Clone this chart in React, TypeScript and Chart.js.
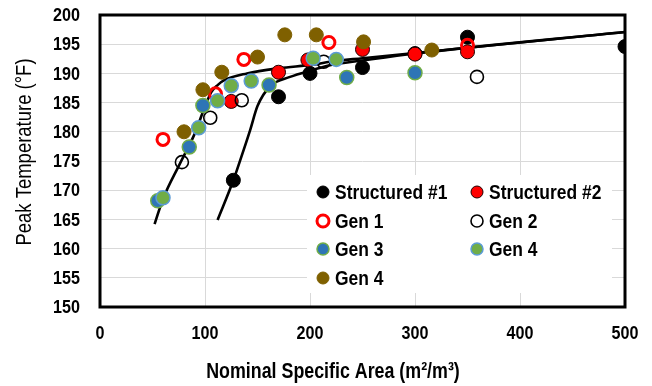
import { useEffect, useRef } from 'react';
import { Chart, registerables } from 'chart.js';

Chart.register(...registerables);

// ---- data ----
const xTickValues = [0, 100, 200, 300, 400, 500];
const yTickValues = [150, 155, 160, 165, 170, 175, 180, 185, 190, 195, 200];

const structured1: [number, number][] = [[127, 171.7], [170, 186], [200, 190], [250, 191], [300, 193.4], [350, 196.2], [500, 194.6]];
const structured2: [number, number][] = [[125, 185.2], [170, 190.2], [198, 192.3], [250, 194.1], [300, 193.3], [350, 193.7]];
const gen1: [number, number][] = [[60, 178.7], [110, 186.5], [137, 192.4], [218, 195.3], [350, 194.8]];
const gen2: [number, number][] = [[78, 174.8], [105, 182.4], [135, 185.4], [213, 192], [359, 189.4]];
const gen3: [number, number][] = [[55, 168.2], [85, 177.4], [98, 184.5], [161, 188], [235, 189.3], [300, 190.1]];
const gen4: [number, number][] = [[60, 168.7], [94, 180.7], [112, 185.3], [125, 187.9], [144, 188.7], [203, 192.6], [225, 192.4]];
const gen4b: [number, number][] = [[80, 180], [98, 187.2], [116, 190.2], [150, 192.8], [176, 196.6], [206, 196.6], [251, 195.4], [316, 194]];

const curveGen: [number, number][] = [[52, 164.2], [60, 168.5], [76, 174.5], [90, 179.6], [101, 184.8], [106, 186.8], [112, 188], [118, 188.8], [140, 190], [171, 190.9], [203, 191.5], [219, 192], [250, 192.6], [300, 193.5], [500, 197.1]];
const curveStructured: [number, number][] = [[112, 164.9], [127, 171.7], [137, 177], [143, 180.3], [150, 184.4], [162, 187.8], [181, 189.4], [203, 190.6], [219, 191.4], [250, 192.2], [300, 193.4], [500, 197.1]];

const seriesLabels = ['Structured #1', 'Structured #2', 'Gen 1', 'Gen 2', 'Gen 3', 'Gen 4', 'Gen 4'];
const xTitle = 'Nominal Specific Area (m\u00B2/m\u00B3)';
const yTitle = 'Peak Temperature (\u00B0F)';

const FONT = "'Liberation Sans', Arial, sans-serif";

const toPts = (a: [number, number][]) => a.map(([x, y]) => ({ x, y }));

function narrowText(ctx: CanvasRenderingContext2D, text: string, x: number, y: number, font: string, align: CanvasTextAlign, sx: number) {
  ctx.save();
  ctx.translate(x, y);
  ctx.scale(sx, 1);
  ctx.font = font;
  ctx.textAlign = align;
  ctx.textBaseline = 'middle';
  ctx.fillStyle = '#000000';
  ctx.fillText(text, 0, 0);
  ctx.restore();
}

export default function App() {
  const ref = useRef<HTMLCanvasElement | null>(null);

  useEffect(() => {
    document.body.style.margin = '0';
    const canvas = ref.current;
    if (!canvas) return;

    const styles = [
      { bg: '#000000', bc: '#000000', bw: 1, r: 7 },
      { bg: '#FF0000', bc: '#200000', bw: 1, r: 7 },
      { bg: 'rgba(0,0,0,0)', bc: '#FF0000', bw: 3, r: 6 },
      { bg: 'rgba(0,0,0,0)', bc: '#000000', bw: 1.6, r: 6.5 },
      { bg: '#2E75B6', bc: '#70AD47', bw: 1.5, r: 7 },
      { bg: '#70AD47', bc: '#5B9BD5', bw: 1.5, r: 7 },
      { bg: '#7F6000', bc: '#7F6000', bw: 1, r: 7 },
    ];
    const series = [structured1, structured2, gen1, gen2, gen3, gen4, gen4b];

    const pointSets = series.map((s, i) => ({
      type: 'scatter' as const,
      label: seriesLabels[i],
      data: toPts(s),
      backgroundColor: styles[i].bg,
      borderColor: styles[i].bc,
      borderWidth: styles[i].bw,
      pointRadius: styles[i].r,
      pointHoverRadius: styles[i].r,
      order: 10 - i,
    }));

    const curves = [curveGen, curveStructured].map((c, i) => ({
      type: 'scatter' as const,
      label: i === 0 ? 'trend gen' : 'trend structured',
      data: toPts(c),
      showLine: true,
      borderColor: '#000000',
      backgroundColor: '#000000',
      borderWidth: 2.6,
      pointRadius: 0,
      cubicInterpolationMode: 'monotone' as const,
      order: 20 + i,
    }));

    const decor = {
      id: 'decor',
      beforeDatasetsDraw(chart: any) {
        const { ctx, chartArea: a } = chart;
        ctx.save();
        ctx.fillStyle = '#ffffff';
        ctx.fillRect(307, 175, 305, 118);
        ctx.strokeStyle = '#000000';
        ctx.lineWidth = 3;
        ctx.strokeRect(a.left, a.top, a.right - a.left, a.bottom - a.top);
        ctx.restore();
        // tick labels
        const xs = chart.scales.x;
        const ys = chart.scales.y;
        xTickValues.forEach((v) => {
          narrowText(ctx, String(v), xs.getPixelForValue(v), 334, `bold 19px ${FONT}`, 'center', 0.85);
        });
        yTickValues.forEach((v) => {
          narrowText(ctx, String(v), 80, ys.getPixelForValue(v) + 1, `bold 19px ${FONT}`, 'right', 0.85);
        });
      },
      afterDatasetsDraw(chart: any) {
        const { ctx } = chart;
        const colX = [323, 477];
        const rowY = [192, 221, 249, 278];
        seriesLabels.forEach((lab, i) => {
          const cx = colX[i % 2];
          const cy = rowY[Math.floor(i / 2)];
          const st = styles[i];
          ctx.save();
          ctx.beginPath();
          ctx.arc(cx, cy, 6, 0, Math.PI * 2);
          ctx.fillStyle = st.bg;
          ctx.fill();
          ctx.lineWidth = st.bw;
          ctx.strokeStyle = st.bc;
          ctx.stroke();
          ctx.restore();
          narrowText(ctx, lab, cx + 12, cy + 1, `bold 21px ${FONT}`, 'left', 0.83);
        });
        // axis titles
        narrowText(ctx, xTitle, 333, 372, `bold 22px ${FONT}`, 'center', 0.81);
        ctx.save();
        ctx.translate(25, 152);
        ctx.rotate(-Math.PI / 2);
        narrowText(ctx, yTitle, 0, 0, `22px ${FONT}`, 'center', 0.84);
        ctx.restore();
      },
    };

    const chart = new Chart(canvas, {
      type: 'scatter',
      data: { datasets: [...pointSets, ...curves] as any },
      options: {
        responsive: false,
        animation: false,
        layout: { padding: { top: 15, right: 27, left: 0, bottom: 0 } },
        plugins: { legend: { display: false }, tooltip: { enabled: false } },
        scales: {
          x: {
            type: 'linear',
            min: 0,
            max: 500,
            afterBuildTicks: (s: any) => { s.ticks = xTickValues.map((v) => ({ value: v })); },
            afterFit: (s: any) => { s.height = 79; },
            grid: { color: '#D9D9D9', lineWidth: 1, drawTicks: false },
            border: { display: false },
            ticks: { display: false },
          },
          y: {
            type: 'linear',
            min: 150,
            max: 200,
            afterBuildTicks: (s: any) => { s.ticks = yTickValues.map((v) => ({ value: v })); },
            afterFit: (s: any) => { s.width = 100; },
            grid: { color: '#D9D9D9', lineWidth: 1, drawTicks: false },
            border: { display: false },
            ticks: { display: false },
          },
        },
      },
      plugins: [decor],
    } as any);

    return () => chart.destroy();
  }, []);

  return (
    <div style={{ width: 652, height: 386, position: 'relative', background: '#fff' }}>
      <canvas ref={ref} width={652} height={386} style={{ display: 'block', width: 652, height: 386 }} />
    </div>
  );
}
